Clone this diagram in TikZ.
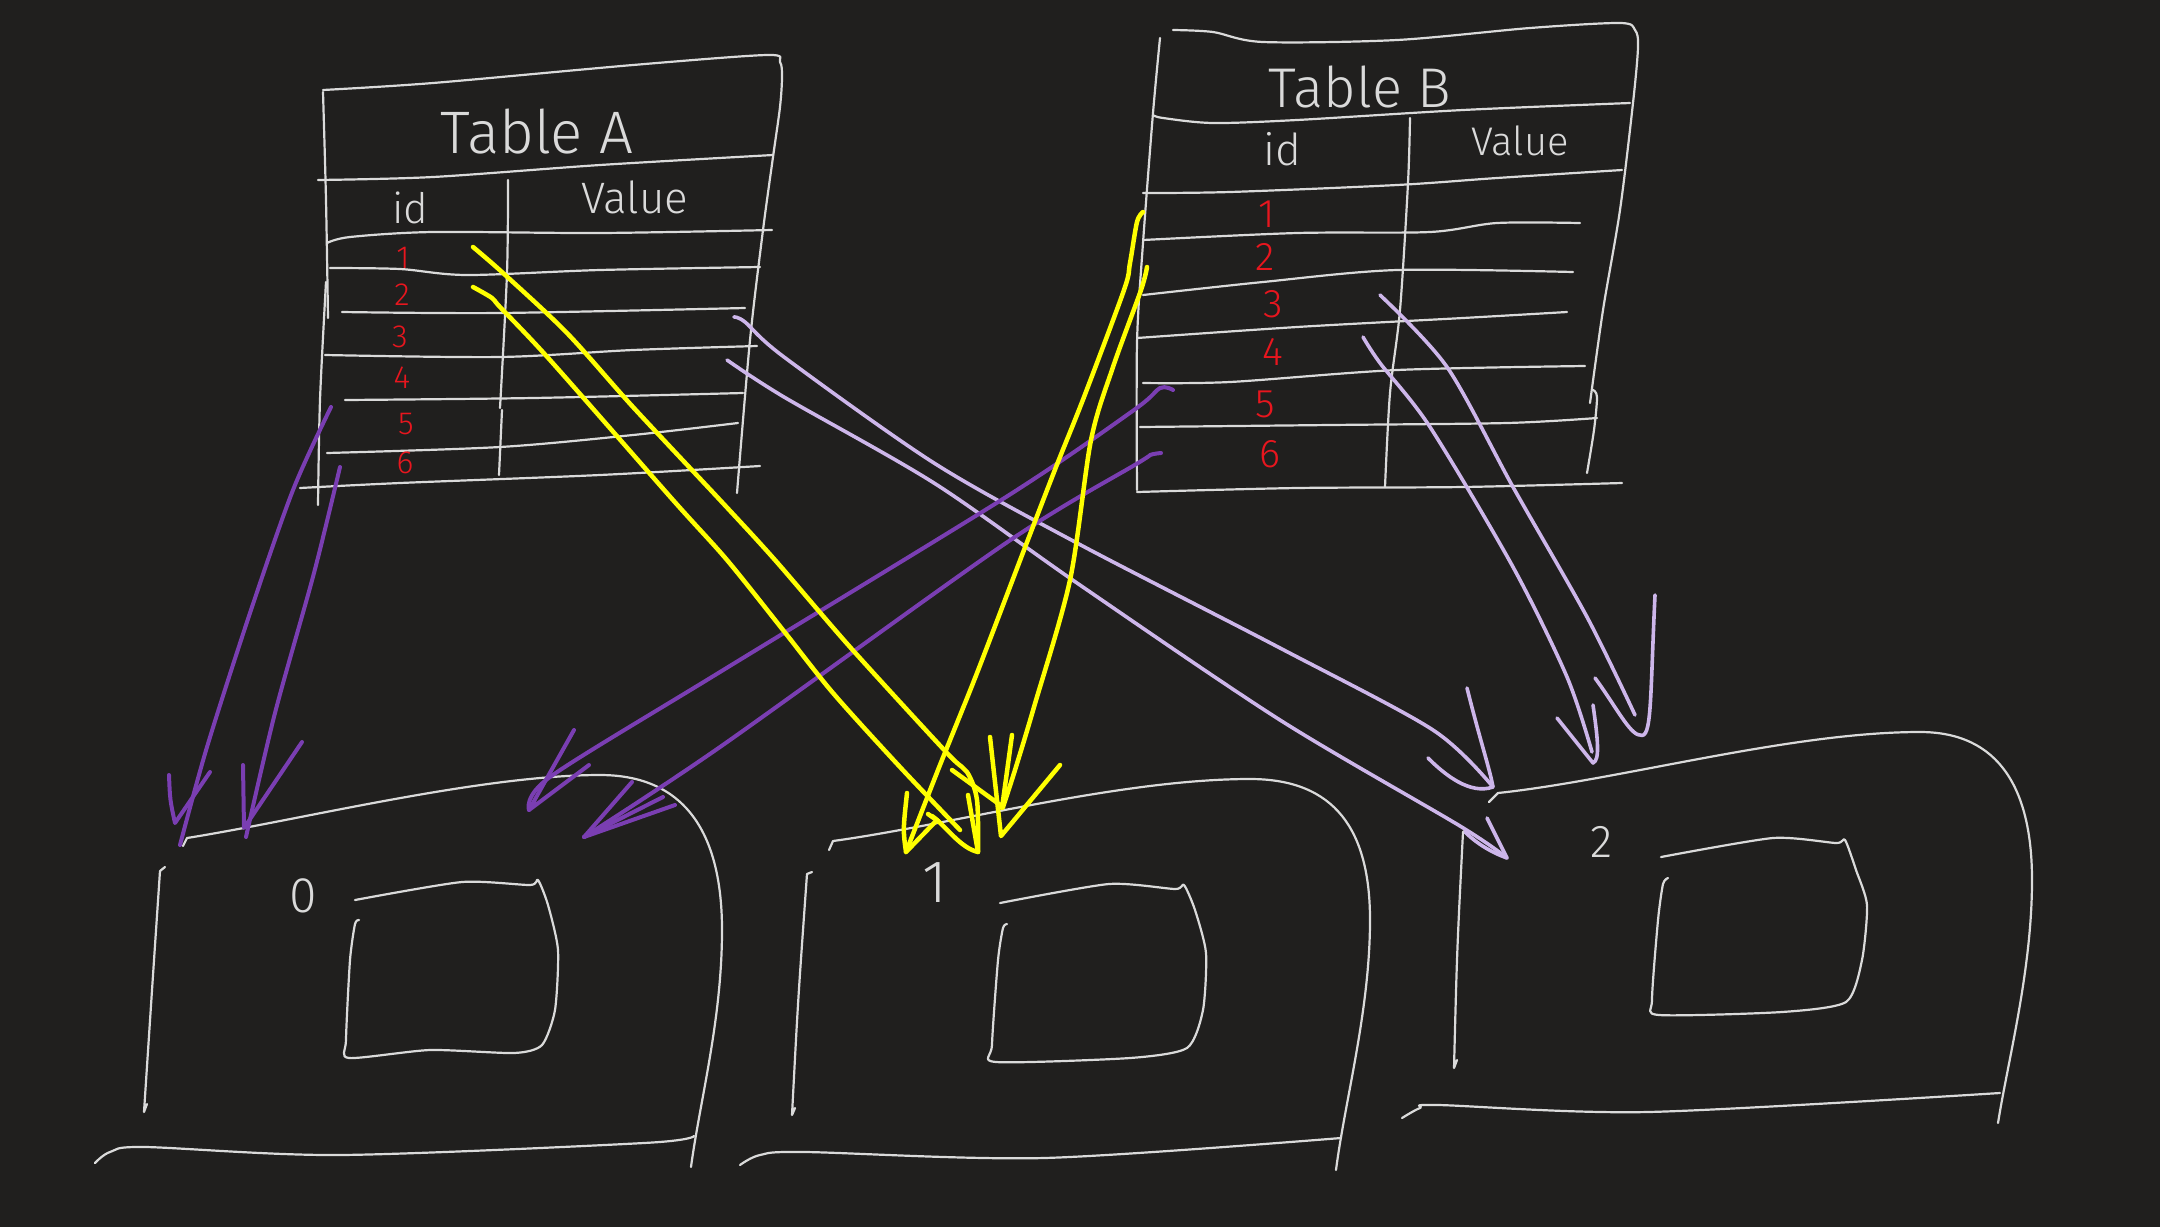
\documentclass[tikz,border=0pt]{standalone}
\usepackage{fontspec}
\newfontfamily\handfont{Fira Sans Light}
\definecolor{bg}{RGB}{32,31,30}
\definecolor{ink}{RGB}{218,218,218}
\definecolor{yel}{RGB}{255,255,0}
\definecolor{dpur}{RGB}{122,62,178}
\definecolor{lpur}{RGB}{205,182,234}
\definecolor{redc}{RGB}{232,22,30}
\tikzset{
  wl/.style={draw=ink, line width=2.2pt, line cap=round, line join=round},
  yl/.style={draw=yel, line width=4.5pt, line cap=round, line join=round},
  dp/.style={draw=dpur, line width=4pt, line cap=round, line join=round},
  lp/.style={draw=lpur, line width=3.6pt, line cap=round, line join=round},
  lbl/.style={text=ink, inner sep=0pt, anchor=base},
  numa/.style={text=redc, inner sep=0pt, anchor=base, font=\handfont\fontsize{32}{32}\selectfont},
  numb/.style={text=redc, inner sep=0pt, anchor=base, font=\handfont\fontsize{40}{40}\selectfont},
  sm/.style={smooth, tension=0.5}
}
\begin{document}
\begin{tikzpicture}[x=1pt,y=-1pt]
\fill[bg] (0,0) rectangle (2160,1227);
\useasboundingbox (0,0) rectangle (2160,1227);

% ---------------- Table A ----------------
\draw[wl] plot[sm] coordinates {(323,90) (433,83) (633,65) (767,55) (780,62) (782,77) (780,107) (773,157) (763,230) (750,340) (737,493)};
\draw[wl] plot[sm] coordinates {(323,92) (326,200) (328,318)};
\draw[wl] plot[sm] coordinates {(326,282) (320,400) (318,505)};
\draw[wl] plot[sm] coordinates {(318,180) (433,177) (600,165) (773,155)};
\draw[wl] plot[sm] coordinates {(327,243) (350,237) (433,232) (600,233) (772,230)};
\draw[wl] plot[sm] coordinates {(330,268) (400,269) (467,275) (600,270) (760,267)};
\draw[wl] plot[sm] coordinates {(342,312) (500,313) (745,308)};
\draw[wl] plot[sm] coordinates {(325,355) (500,357) (633,350) (757,346)};
\draw[wl] plot[sm] coordinates {(345,400) (533,398) (743,393)};
\draw[wl] plot[sm] coordinates {(327,453) (500,447) (633,435) (738,423)};
\draw[wl] plot[sm] coordinates {(300,488) (400,483) (600,475) (760,466)};
\draw[wl] plot[sm] coordinates {(508,180) (507,273) (500,408)};
\draw[wl] plot[sm] coordinates {(502,410) (499,475)};

\node[lbl, font=\handfont\fontsize{60}{60}\selectfont] (tA) at (537,153) {Table A};
\node[lbl, font=\handfont\fontsize{42}{42}\selectfont] (idA) at (410,223) {id};
\node[lbl, font=\handfont\fontsize{44}{44}\selectfont] (valA) at (635,213) {Value};
\node[numa] (a1) at (403,268) {1};
\node[numa] (a2) at (402,305) {2};
\node[numa] (a3) at (400,347) {3};
\node[numa] (a4) at (402,388) {4};
\node[numa] (a5) at (406,434) {5};
\node[numa] (a6) at (405,473) {6};

% ---------------- Table B ----------------
\draw[wl] plot[sm] coordinates {(1173,30) (1213,32) (1263,42) (1397,40) (1530,28) (1620,23) (1635,30) (1638,47) (1633,103) (1620,210) (1603,310) (1590,403)};
\draw[wl] plot[sm] coordinates {(1593,390) (1597,397) (1594,430) (1587,473)};
\draw[wl] plot[sm] coordinates {(1160,38) (1153,113) (1143,243) (1137,343) (1137,490)};
\draw[wl] plot[sm] coordinates {(1153,115) (1163,118) (1213,123) (1297,120) (1463,110) (1630,103)};
\draw[wl] plot[sm] coordinates {(1143,193) (1230,192) (1397,185) (1497,178) (1622,170)};
\draw[wl] plot[sm] coordinates {(1143,240) (1297,233) (1430,232) (1497,223) (1580,223)};
\draw[wl] plot[sm] coordinates {(1143,295) (1263,282) (1397,270) (1573,272)};
\draw[wl] plot[sm] coordinates {(1137,338) (1297,327) (1463,318) (1567,312)};
\draw[wl] plot[sm] coordinates {(1143,383) (1230,382) (1397,370) (1585,366)};
\draw[wl] plot[sm] coordinates {(1140,427) (1330,425) (1507,423) (1597,418)};
\draw[wl] plot[sm] coordinates {(1137,492) (1297,488) (1463,487) (1622,483)};
\draw[wl] plot[sm] coordinates {(1410,118) (1408,183) (1400,310) (1390,393) (1385,487)};

\node[lbl, font=\handfont\fontsize{56}{56}\selectfont] (tB) at (1360,107) {Table B};
\node[lbl, font=\handfont\fontsize{44}{44}\selectfont] (idB) at (1282,165) {id};
\node[lbl, font=\handfont\fontsize{40}{40}\selectfont] (valB) at (1520,155) {Value};
\node[numb] (b1) at (1267,227) {1};
\node[numb] (b2) at (1265,270) {2};
\node[numb] (b3) at (1273,317) {3};
\node[numb] (b4) at (1273,365) {4};
\node[numb] (b5) at (1265,417) {5};
\node[numb] (b6) at (1270,467) {6};

% ---------------- Box 0 ----------------
\draw[wl] (183,846) -- (187,838) .. controls (300,820) and (480,775) .. (600,775) .. controls (690,775) and (722,840) .. (722,930) .. controls (722,1020) and (700,1100) .. (691,1167);
\draw[wl] (165,867) -- (160,871) .. controls (152,990) .. (144,1112) -- (147,1104);
\draw[wl] plot[sm] coordinates {(95,1163) (110,1152) (145,1147) (340,1155) (644,1143) (694,1136)};
\draw[wl] plot[smooth, tension=0.4] coordinates {(355,900) (462,882) (530,885) (538,880) (548,905) (558,950) (555,1010) (542,1045) (514,1053) (430,1050) (349,1058) (346,1040) (350,960) (355,924) (359,920)};
\node[lbl, font=\handfont\fontsize{50}{50}\selectfont] (n0) at (303,912) {0};

% ---------------- Box 1 ----------------
\draw[wl] (829,850) -- (833,841) .. controls (950,825) and (1120,779) .. (1250,779) .. controls (1335,779) and (1370,830) .. (1370,920) .. controls (1370,1010) and (1345,1100) .. (1336,1170);
\draw[wl] (812,872) -- (807,874) .. controls (798,1000) .. (792,1115) -- (795,1108);
\draw[wl] plot[sm] coordinates {(740,1165) (760,1155) (805,1152) (1044,1158) (1341,1138)};
\draw[wl] plot[smooth, tension=0.4] coordinates {(1000,903) (1109,884) (1175,889) (1184,885) (1195,910) (1206,953) (1203,1010) (1187,1048) (1130,1058) (996,1062) (992,1045) (998,960) (1003,928) (1007,924)};
\node[lbl, font=\handfont\fontsize{60}{60}\selectfont] (n1) at (935,902) {1};

% ---------------- Box 2 ----------------
\draw[wl] (1489,802) -- (1498,793) .. controls (1620,780) and (1790,732) .. (1920,732) .. controls (2000,732) and (2032,790) .. (2032,880) .. controls (2032,970) and (2008,1060) .. (1998,1123);
\draw[wl] (1466,830) -- (1463,832) .. controls (1457,950) .. (1454,1068) -- (1457,1060);
\draw[wl] plot[sm] coordinates {(1402,1118) (1420,1108) (1438,1105) (1648,1112) (2000,1093)};
\draw[wl] plot[smooth, tension=0.4] coordinates {(1661,857) (1773,838) (1836,843) (1845,840) (1856,870) (1867,905) (1862,960) (1846,1002) (1782,1012) (1659,1015) (1652,1000) (1658,920) (1663,884) (1668,878)};
\node[lbl, font=\handfont\fontsize{46}{46}\selectfont] (n2) at (1601,857) {2};

% ---------------- arrow end points ----------------
\coordinate (sA1) at (473,247);  \coordinate (tY1) at (978,852);
\coordinate (sA2) at (473,287);  \coordinate (tY2) at (960,830);
\coordinate (sB1) at (1143,212); \coordinate (tY3) at (906,852);
\coordinate (sB2) at (1147,267); \coordinate (tY4) at (1001,836);
\coordinate (sA3) at (734,317);  \coordinate (tL1) at (1493,787);
\coordinate (sA4) at (727,360);  \coordinate (tL2) at (1507,858);
\coordinate (sB3) at (1380,295); \coordinate (tL3) at (1640,735);
\coordinate (sB4) at (1363,337); \coordinate (tL4) at (1593,763);
\coordinate (sA5) at (331,407);  \coordinate (tP1) at (180,845);
\coordinate (sA6) at (340,467);  \coordinate (tP2) at (246,837);
\coordinate (sB5) at (1173,390); \coordinate (tP3) at (529,810);
\coordinate (sB6) at (1161,453); \coordinate (tP4) at (584,837);

% ---------------- light purple ----------------
\draw[lp] plot[sm] coordinates {(sA3) (745,322) (784,357) (934,463) (1077,543) (1280,648) (1433,730) (tL1)};
\draw[lp] (1467,688) .. controls (1480,740) and (1490,770) .. (tL1) .. controls (1470,795) and (1445,775) .. (1428,758);
\draw[lp] plot[sm] coordinates {(sA4) (784,397) (934,483) (1077,583) (1280,720) (1460,826) (tL2)};
\draw[lp] (1487,818) -- (tL2) .. controls (1490,852) and (1475,842) .. (1465,832);
\draw[lp] plot[sm] coordinates {(sB3) (1447,367) (1513,487) (1587,617) (1635,715)};
\draw[lp] (1595,678) .. controls (1615,705) and (1630,735) .. (tL3) .. controls (1652,740) and (1650,700) .. (1655,595);
\draw[lp] plot[sm] coordinates {(sB4) (1380,363) (1430,427) (1513,567) (1567,677) (1592,752)};
\draw[lp] (1557,718) -- (tL4) .. controls (1600,760) and (1598,740) .. (1593,705);

% ---------------- dark purple ----------------
\draw[dp] plot[sm] coordinates {(sA5) (293,490) (250,613) (207,747) (tP1)};
\draw[dp] (169,775) .. controls (170,800) .. (175,823) -- (210,772);
\draw[dp] plot[sm] coordinates {(sA6) (314,573) (275,713) (tP2)};
\draw[dp] (243,765) -- (244,828) -- (302,742);
\draw[dp] plot[sm] coordinates {(sB5) (1160,388) (1134,410) (1006,497) (720,672) (550,777) (tP3)};
\draw[dp] (574,730) -- (tP3) -- (589,765);
\draw[dp] plot[sm] coordinates {(sB6) (1150,455) (1138,463) (1006,543) (720,747) (tP4)};
\draw[dp] (632,782) -- (tP4) -- (675,805);
\draw[dp] (663,797) -- (tP4);

% ---------------- yellow ----------------
\draw[yl] plot[sm] coordinates {(sA1) (503,273) (567,333) (633,407) (720,500) (775,560) (850,647) (947,753) (967,772) (977,800) (tY1)};
\draw[yl] (968,795) -- (tY1) .. controls (960,848) and (945,825) .. (932,816);
\draw[yl] plot[sm] coordinates {(sA2) (492,298) (500,307) (550,360) (673,500) (727,560) (783,630) (833,693) (900,767) (tY2)};
\draw[yl] plot[sm] coordinates {(sB1) (1137,222) (1130,263) (1124,290) (1084,397) (1056,467) (1024,550) (977,673) (938,770) (tY3)};
\draw[yl] (907,793) .. controls (903,830) .. (tY3) -- (937,820);
\draw[yl] (928,814) -- (938,821);
\draw[yl] plot[sm] coordinates {(sB2) (1141,290) (1113,367) (1091,440) (1070,580) (1034,707) (1015,770) (1003,807)};
\draw[yl] (990,737) -- (tY4) -- (1060,765);
\draw[yl] (1012,735) -- (1002,808);
\draw[yl] (952,770) -- (1003,807);
\end{tikzpicture}
\end{document}
